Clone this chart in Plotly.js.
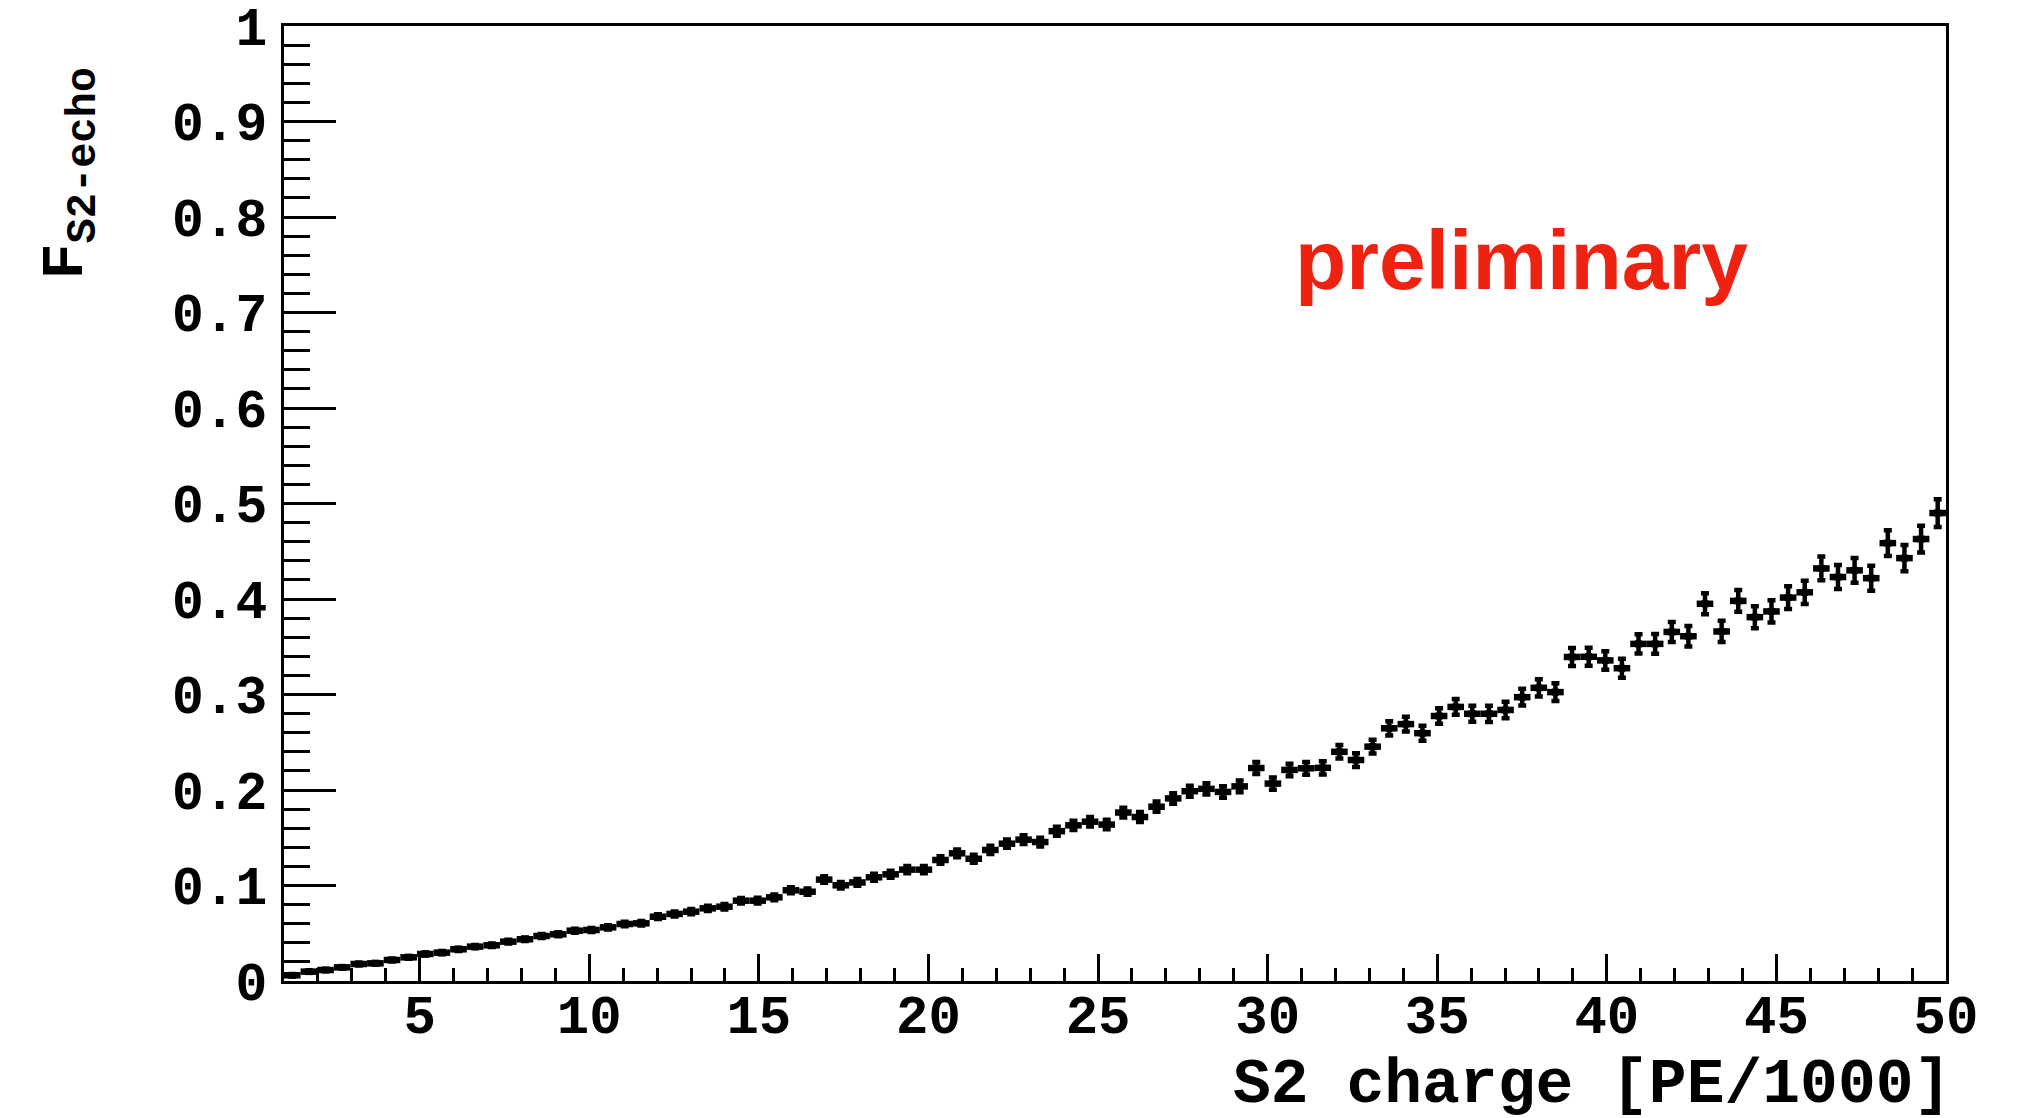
<!DOCTYPE html>
<html>
<head>
<meta charset="utf-8">
<script src="https://cdn.plot.ly/plotly-3.0.1.min.js"></script>
<style>
  html, body { margin: 0; padding: 0; background: #ffffff; }
  #chart { width: 2018px; height: 1118px; }
</style>
</head>
<body>
<div id="chart"></div>
<script>
// Histogram binning: 100 bins between 1 and 50 (PE/1000)
const binLo = 1;
const binHi = 50;
const nBins = 100;

// F_S2-echo per bin
const fEcho = [
  0.0060, 0.0098, 0.0115, 0.0143, 0.0178, 0.0185, 0.0220, 0.0248, 0.0283, 0.0297,
  0.0332, 0.0360, 0.0374, 0.0412, 0.0437, 0.0471, 0.0489, 0.0527, 0.0534, 0.0562,
  0.0597, 0.0604, 0.0673, 0.0702, 0.0726, 0.0761, 0.0778, 0.0841, 0.0841, 0.0876,
  0.0950, 0.0935, 0.1062, 0.1002, 0.1032, 0.1086, 0.1117, 0.1166, 0.1166, 0.1267,
  0.1337, 0.1280, 0.1372, 0.1438, 0.1480, 0.1455, 0.1569, 0.1630, 0.1668, 0.1638,
  0.1764, 0.1717, 0.1825, 0.1912, 0.1987, 0.2012, 0.1980, 0.2038, 0.2230, 0.2067,
  0.2210, 0.2227, 0.2232, 0.2400, 0.2314, 0.2454, 0.2646, 0.2690, 0.2595, 0.2775,
  0.2870, 0.2798, 0.2798, 0.2838, 0.2972, 0.3070, 0.3025, 0.3393, 0.3395, 0.3357,
  0.3275, 0.3530, 0.3530, 0.3655, 0.3610, 0.3950, 0.3660, 0.3980, 0.3810, 0.3870,
  0.4015, 0.4070, 0.4320, 0.4230, 0.4300, 0.4218, 0.4585, 0.4428, 0.4628, 0.4900
];

// statistical uncertainty per bin
const fEchoErr = [
  0.0010, 0.0011, 0.0011, 0.0012, 0.0013, 0.0013, 0.0014, 0.0015, 0.0015, 0.0016,
  0.0017, 0.0017, 0.0018, 0.0019, 0.0019, 0.0020, 0.0021, 0.0021, 0.0022, 0.0023,
  0.0024, 0.0024, 0.0025, 0.0026, 0.0027, 0.0027, 0.0028, 0.0029, 0.0030, 0.0031,
  0.0032, 0.0033, 0.0034, 0.0034, 0.0035, 0.0036, 0.0037, 0.0038, 0.0039, 0.0040,
  0.0041, 0.0042, 0.0043, 0.0044, 0.0045, 0.0046, 0.0047, 0.0048, 0.0049, 0.0050,
  0.0051, 0.0052, 0.0054, 0.0055, 0.0057, 0.0058, 0.0060, 0.0061, 0.0063, 0.0064,
  0.0066, 0.0067, 0.0069, 0.0070, 0.0072, 0.0073, 0.0075, 0.0077, 0.0078, 0.0080,
  0.0082, 0.0083, 0.0085, 0.0087, 0.0088, 0.0090, 0.0092, 0.0094, 0.0095, 0.0097,
  0.0099, 0.0101, 0.0103, 0.0105, 0.0107, 0.0109, 0.0111, 0.0113, 0.0115, 0.0117,
  0.0119, 0.0122, 0.0124, 0.0126, 0.0129, 0.0131, 0.0134, 0.0137, 0.0140, 0.0145
];

// axis tick values and labels
const xTickVals = [5, 10, 15, 20, 25, 30, 35, 40, 45, 50];
const xTickText = ['5', '10', '15', '20', '25', '30', '35', '40', '45', '50'];
const yTickVals = [0, 0.1, 0.2, 0.3, 0.4, 0.5, 0.6, 0.7, 0.8, 0.9, 1];
const yTickText = ['0', '0.1', '0.2', '0.3', '0.4', '0.5', '0.6', '0.7', '0.8', '0.9', '1'];

const xTitle = 'S2 charge [PE/1000]';
const yTitle = 'F<sub>S2-echo</sub>';
const stamp = 'preliminary';

// bin centres and half widths
const binWidth = (binHi - binLo) / nBins;
const binCentres = fEcho.map((_, i) => binLo + binWidth * (i + 0.5));

const monoBold = { family: '"Liberation Mono", "Courier New", monospace', weight: 'bold', color: '#000000' };

const trace = {
  type: 'scatter',
  mode: 'markers',
  x: binCentres,
  y: fEcho,
  marker: { symbol: 'square', size: 7, color: '#000000' },
  error_x: { type: 'constant', value: binWidth / 2, thickness: 6.5, width: 0, color: '#000000' },
  error_y: { type: 'data', array: fEchoErr, visible: true, thickness: 4.5, width: 4, color: '#000000' },
  cliponaxis: false,
  hoverinfo: 'x+y'
};

const layout = {
  width: 2018,
  height: 1118,
  margin: { l: 284, r: 72, t: 26, b: 137, pad: 0 },
  paper_bgcolor: '#ffffff',
  plot_bgcolor: '#ffffff',
  showlegend: false,
  xaxis: {
    range: [binLo, binHi],
    tickmode: 'array',
    tickvals: xTickVals,
    ticktext: xTickText,
    ticks: 'inside',
    ticklen: 27,
    tickwidth: 3,
    tickcolor: '#000000',
    minor: { tick0: 0, dtick: 1, ticks: 'inside', ticklen: 13, tickwidth: 3, tickcolor: '#000000' },
    showline: true,
    mirror: true,
    linewidth: 3,
    linecolor: '#000000',
    showgrid: false,
    zeroline: false,
    tickfont: Object.assign({ size: 54 }, monoBold),
    ticklabelstandoff: -16
  },
  yaxis: {
    range: [0, 1],
    tickmode: 'array',
    tickvals: yTickVals,
    ticktext: yTickText,
    ticks: 'inside',
    ticklen: 52,
    tickwidth: 3,
    tickcolor: '#000000',
    minor: { tick0: 0, dtick: 0.02, ticks: 'inside', ticklen: 26, tickwidth: 3, tickcolor: '#000000' },
    showline: true,
    mirror: true,
    linewidth: 3,
    linecolor: '#000000',
    showgrid: false,
    zeroline: false,
    tickfont: Object.assign({ size: 53 }, monoBold),
    ticklabelstandoff: 3
  },
  annotations: [
    {
      text: xTitle,
      xref: 'paper', yref: 'paper',
      x: 1.004, y: -0.109,
      xanchor: 'right', yanchor: 'middle',
      showarrow: false,
      font: Object.assign({ size: 63 }, monoBold)
    },
    {
      text: yTitle,
      xref: 'paper', yref: 'paper',
      x: -0.1288, y: 0.8455,
      xanchor: 'center', yanchor: 'middle',
      textangle: -90,
      showarrow: false,
      font: Object.assign({ size: 60 }, monoBold)
    },
    {
      text: stamp,
      xref: 'paper', yref: 'paper',
      x: 0.7447, y: 0.7545,
      xanchor: 'center', yanchor: 'middle',
      showarrow: false,
      font: { family: '"Liberation Sans", Arial, sans-serif', weight: 'bold', size: 84, color: '#ee2211' }
    }
  ]
};

Plotly.newPlot('chart', [trace], layout, { displayModeBar: false, staticPlot: true });
</script>
</body>
</html>
